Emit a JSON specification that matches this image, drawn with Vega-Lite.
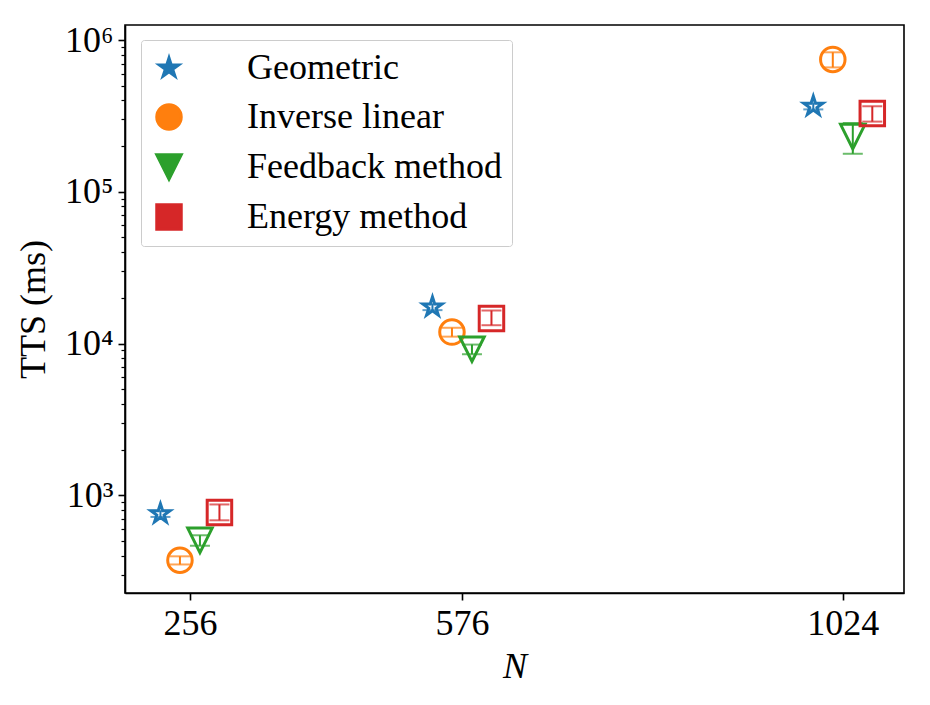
{
  "$schema": "https://vega.github.io/schema/vega-lite/v6.json",
  "width": 779,
  "height": 568,
  "autosize": {"type": "none"},
  "padding": {"left": 125, "top": 25, "right": 26, "bottom": 112},
  "background": "white",
  "config": {
    "font": "'Liberation Serif', serif",
    "view": {"stroke": "black", "strokeWidth": 1.6},
    "axis": {
      "labelFont": "'Liberation Serif', serif",
      "titleFont": "'Liberation Serif', serif",
      "labelFontSize": 36,
      "titleFontSize": 36,
      "titleFontWeight": "normal",
      "labelColor": "black",
      "titleColor": "black",
      "domainColor": "black",
      "domainWidth": 1.6,
      "tickColor": "black",
      "grid": false
    }
  },
  "data": {
    "values": [
      {"method": "Geometric", "N": 256, "tts": 755, "lo": 720, "hi": 790},
      {"method": "Geometric", "N": 576, "tts": 17400, "lo": 16600, "hi": 18200},
      {"method": "Geometric", "N": 1024, "tts": 366000, "lo": 349000, "hi": 383000},
      {"method": "Inverse linear", "N": 256, "tts": 373, "lo": 350, "hi": 396},
      {"method": "Inverse linear", "N": 576, "tts": 11900, "lo": 11100, "hi": 12700},
      {"method": "Inverse linear", "N": 1024, "tts": 745000, "lo": 660000, "hi": 830000},
      {"method": "Feedback method", "N": 256, "tts": 505, "lo": 465, "hi": 545},
      {"method": "Feedback method", "N": 576, "tts": 9170, "lo": 8500, "hi": 9840},
      {"method": "Feedback method", "N": 1024, "tts": 231000, "lo": 178000, "hi": 284000},
      {"method": "Energy method", "N": 256, "tts": 770, "lo": 684, "hi": 870},
      {"method": "Energy method", "N": 576, "tts": 14600, "lo": 13200, "hi": 16500},
      {"method": "Energy method", "N": 1024, "tts": 328000, "lo": 290000, "hi": 366000}
    ]
  },
  "resolve": {"scale": {"y": "shared"}, "axis": {"y": "independent"}},
  "encoding": {
    "x": {
      "field": "N",
      "type": "quantitative",
      "scale": {"domain": [179.6, 1096], "nice": false, "zero": false},
      "axis": {
        "orient": "bottom",
        "values": [256, 576, 1024],
        "format": "d",
        "title": "N",
        "titleFontStyle": "italic",
        "tickSize": 7,
        "tickWidth": 1.6,
        "labelPadding": 6,
        "titlePadding": 8
      }
    },
    "color": {
      "field": "method",
      "type": "nominal",
      "scale": {
        "domain": ["Geometric", "Inverse linear", "Feedback method", "Energy method"],
        "range": ["#1f77b4", "#ff7f0e", "#2ca02c", "#d62728"]
      },
      "legend": {
        "title": null,
        "orient": "none",
        "legendX": 16,
        "legendY": 15,
        "padding": 10,
        "fillColor": "rgba(255,255,255,0.8)",
        "strokeColor": "#cccccc",
        "cornerRadius": 3,
        "labelFont": "'Liberation Serif', serif",
        "labelFontSize": 36,
        "labelColor": "black",
        "labelLimit": 400,
        "labelOffset": 60,
        "rowPadding": 12,
        "symbolSize": 600,
        "symbolStrokeWidth": 3,
        "symbolOpacity": 1,
        "encode": {
          "symbols": {
            "update": {
              "fill": {"value": "transparent"},
              "stroke": {"scale": "color", "field": "value"},
              "strokeWidth": {"value": 3},
              "opacity": {"value": 1}
            }
          }
        }
      }
    }
  },
  "layer": [
    {
      "mark": {
        "type": "rule",
        "strokeWidth": 2,
        "xOffset": {"expr": "datum.method == 'Geometric' ? -29.5 : datum.method == 'Inverse linear' ? -10 : datum.method == 'Feedback method' ? 10 : 29.5"}
      },
      "encoding": {
        "y": {
          "field": "lo",
          "type": "quantitative",
          "scale": {"type": "log", "domain": [227, 1256000], "nice": false},
          "axis": {
            "orient": "left",
            "title": null,
            "labels": false,
            "domain": false,
            "values": [300, 400, 500, 600, 700, 800, 900, 2000, 3000, 4000, 5000, 6000, 7000, 8000, 9000, 20000, 30000, 40000, 50000, 60000, 70000, 80000, 90000, 200000, 300000, 400000, 500000, 600000, 700000, 800000, 900000],
            "tickSize": 4,
            "tickWidth": 1.2
          }
        },
        "y2": {"field": "hi"}
      }
    },
    {
      "mark": {
        "type": "tick", "orient": "horizontal", "size": 20, "thickness": 2,
        "xOffset": {"expr": "datum.method == 'Geometric' ? -29.5 : datum.method == 'Inverse linear' ? -10 : datum.method == 'Feedback method' ? 10 : 29.5"}
      },
      "encoding": {"y": {"field": "lo", "type": "quantitative", "axis": null}}
    },
    {
      "mark": {
        "type": "tick", "orient": "horizontal", "size": 20, "thickness": 2,
        "xOffset": {"expr": "datum.method == 'Geometric' ? -29.5 : datum.method == 'Inverse linear' ? -10 : datum.method == 'Feedback method' ? 10 : 29.5"}
      },
      "encoding": {"y": {"field": "hi", "type": "quantitative", "axis": null}}
    },
    {
      "mark": {
        "type": "point", "filled": false, "strokeWidth": 3, "size": 600, "opacity": 1,
        "xOffset": {"expr": "datum.method == 'Geometric' ? -29.5 : datum.method == 'Inverse linear' ? -10 : datum.method == 'Feedback method' ? 10 : 29.5"}
      },
      "encoding": {
        "y": {
          "field": "tts",
          "type": "quantitative",
          "axis": {
            "orient": "left",
            "title": "TTS (ms)",
            "values": [1000, 10000, 100000, 1000000],
            "labelExpr": "datum.value == 1000 ? '10³' : datum.value == 10000 ? '10⁴' : datum.value == 100000 ? '10⁵' : '10⁶'",
            "tickSize": 7,
            "tickWidth": 1.6,
            "labelPadding": 5,
            "titlePadding": 12
          }
        },
        "shape": {
          "field": "method",
          "type": "nominal",
          "scale": {
            "domain": ["Geometric", "Inverse linear", "Feedback method", "Energy method"],
            "range": [
              "M0,-0.82L-0.184,-0.253L-0.78,-0.253L-0.298,0.097L-0.482,0.663L0,0.313L0.482,0.663L0.298,0.097L0.78,-0.253L0.184,-0.253Z",
              "circle",
              "M-1,-1L1,-1L0,1Z",
              "square"
            ]
          }
        }
      }
    }
  ]
}
